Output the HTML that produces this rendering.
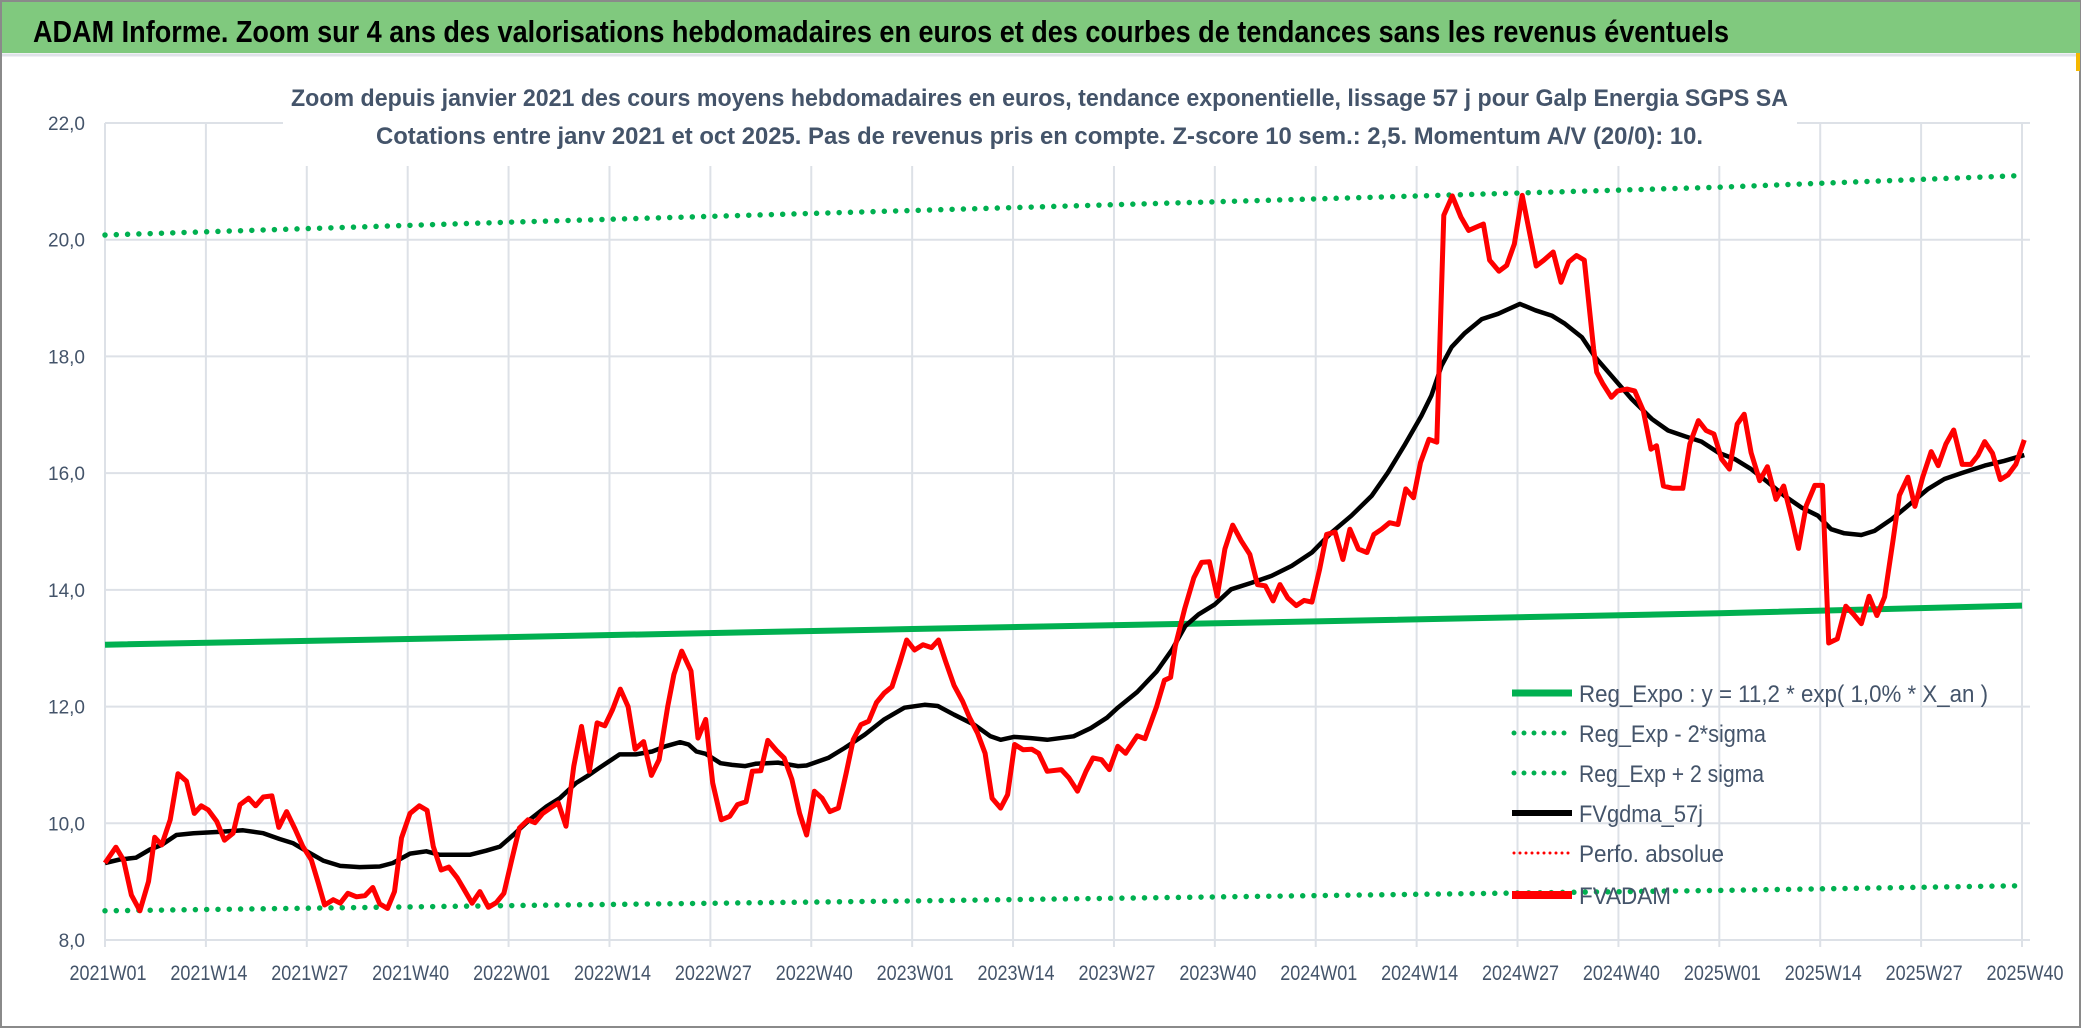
<!DOCTYPE html>
<html><head><meta charset="utf-8"><style>
html,body{margin:0;padding:0;background:#fff;}
svg{display:block;}
text{font-family:"Liberation Sans",sans-serif;}
</style></head><body>
<svg id="chart" width="2086" height="1031" viewBox="0 0 2086 1031" xmlns="http://www.w3.org/2000/svg">
<rect x="0" y="0" width="2086" height="1031" fill="#fff"/>
<rect x="1" y="1" width="2079" height="1026" fill="none" stroke="#8a8a8a" stroke-width="2"/>
<rect x="2" y="2" width="2078" height="51" fill="#80c97e"/>
<line x1="2" y1="55" x2="2080" y2="55" stroke="#dfe2e8" stroke-width="3"/>
<text x="33" y="42" font-size="31" font-weight="bold" fill="#000" textLength="1696" lengthAdjust="spacingAndGlyphs">ADAM Informe. Zoom sur 4 ans des valorisations hebdomadaires en euros et des courbes de tendances sans les revenus éventuels</text>
<g id="grid"></g>
<rect x="283" y="60" width="1514" height="106" fill="#fff"/>
<text x="291" y="106" font-size="24" font-weight="bold" fill="#44546a" textLength="1497" lengthAdjust="spacingAndGlyphs">Zoom depuis janvier 2021 des cours moyens hebdomadaires en euros, tendance exponentielle, lissage 57 j pour Galp Energia SGPS SA</text>
<text x="376" y="144" font-size="24" font-weight="bold" fill="#44546a" textLength="1327" lengthAdjust="spacingAndGlyphs">Cotations entre janv 2021 et oct 2025. Pas de revenus pris en compte. Z-score 10 sem.: 2,5. Momentum A/V (20/0): 10.</text>
<g id="axes"></g>
<g id="series"></g>
<g id="legend">
  <rect x="1505" y="676" width="500" height="240" fill="none"/>
  <g>
    <line x1="1512" y1="693" x2="1572" y2="693" stroke="#00b050" stroke-width="7"/>
    <text x="1579" y="702" font-size="24" fill="#44546a" textLength="409" lengthAdjust="spacingAndGlyphs">Reg_Expo : y = 11,2 * exp( 1,0% *  X_an )</text>
  </g>
  <g>
    <line x1="1514" y1="733" x2="1572" y2="733" stroke="#00b050" stroke-width="5" stroke-linecap="round" stroke-dasharray="0 10"/>
    <text x="1579" y="742" font-size="24" fill="#44546a" textLength="187" lengthAdjust="spacingAndGlyphs">Reg_Exp - 2*sigma</text>
  </g>
  <g>
    <line x1="1514" y1="773" x2="1572" y2="773" stroke="#00b050" stroke-width="5" stroke-linecap="round" stroke-dasharray="0 10"/>
    <text x="1579" y="782" font-size="24" fill="#44546a" textLength="185" lengthAdjust="spacingAndGlyphs">Reg_Exp + 2 sigma</text>
  </g>
  <g>
    <line x1="1512" y1="813" x2="1572" y2="813" stroke="#000" stroke-width="6"/>
    <text x="1579" y="822" font-size="24" fill="#44546a" textLength="124" lengthAdjust="spacingAndGlyphs">FVgdma_57j</text>
  </g>
  <g>
    <line x1="1514" y1="853" x2="1572" y2="853" stroke="#ff0000" stroke-width="3" stroke-linecap="round" stroke-dasharray="0 6"/>
    <text x="1579" y="862" font-size="24" fill="#44546a" textLength="145" lengthAdjust="spacingAndGlyphs">Perfo. absolue</text>
  </g>
  <g>
    <line x1="1512" y1="895" x2="1572" y2="895" stroke="#ff0000" stroke-width="8"/>
    <text x="1579" y="904" font-size="24" fill="#44546a" textLength="92" lengthAdjust="spacingAndGlyphs">FVADAM</text>
  </g>
</g>
<rect x="2076" y="53" width="4" height="18" fill="#f5b800"/>
</svg>
<script>
// ---- data ----
const xTickLabels = ["2021W01","2021W14","2021W27","2021W40","2022W01","2022W14","2022W27","2022W40","2023W01","2023W14","2023W27","2023W40","2024W01","2024W14","2024W27","2024W40","2025W01","2025W14","2025W27","2025W40"];
const yTickValues = [8,10,12,14,16,18,20,22];
const yTickLabels = ["8,0","10,0","12,0","14,0","16,0","18,0","20,0","22,0"];
const trendWeeks = [0,52,104,156,208,247];
const regExpo = [13.06,13.19,13.33,13.46,13.60,13.73];
const regMinus2Sigma = [8.50,8.59,8.67,8.76,8.85,8.93];
const regPlus2Sigma = [20.08,20.30,20.50,20.70,20.90,21.10];
const redWeeks = [0,1.4,2.4,3.4,4.5,5.6,6.4,7.3,8.4,9.4,10.5,11.5,12.4,13.3,14.4,15.4,16.5,17.4,18.5,19.4,20.4,21.5,22.4,23.4,24.5,25.5,26.6,27.5,28.3,29.4,30.3,31.3,32.4,33.5,34.5,35.4,36.4,37.3,38.2,39.3,40.5,41.5,42.3,43.3,44.3,45.4,46.3,47.3,48.3,49.4,50.4,51.4,52.4,53.4,54.5,55.4,56.4,57.5,58.4,59.4,60.4,61.4,62.4,63.4,64.4,65.4,66.4,67.4,68.3,69.4,70.4,71.4,72.5,73.3,74.3,75.5,76.4,77.4,78.3,79.4,80.5,81.5,82.6,83.4,84.5,85.4,86.5,87.5,88.5,89.5,90.4,91.4,92.4,93.4,94.5,95.5,96.4,97.4,98.4,99.4,100.4,101.4,102.4,103.3,104.3,105.4,106.5,107.4,108.3,109.4,110.5,111.4,112.4,113.4,114.3,115.4,116.3,117.2,118.3,119.4,120.3,121.4,123.2,124.2,125.3,126.4,127.3,128.4,129.4,130.5,131.5,133,134,135.5,136.5,137.3,137.9,139.1,140.3,141.3,142.3,143.3,144.3,145.3,146.4,147.5,148.5,149.5,150.5,151.4,152.4,153.5,154.5,155.5,156.5,157.4,158.5,159.5,160.4,161.5,162.6,163.5,164.5,165.5,166.6,167.6,168.6,169.5,170.6,171.6,172.5,173.6,174.7,175.7,177.6,178.4,179.6,180.6,181.6,182.6,183.4,184.4,185.4,186.6,187.6,188.6,189.6,190.6,191.8,192.2,193.0,194.1,194.9,196.1,197.1,198.2,199.2,199.9,200.8,202.0,203.3,204.2,205.3,206.3,207.3,208.3,209.3,210.3,211.2,212.1,213.2,214.2,215.3,216.3,217.3,218.2,219.2,220.3,221.3,222.1,223.2,224.3,225.3,226.3,227.3,228.3,229.3,230.4,231.2,232.3,233.2,234.2,235.3,236.2,237.2,238.2,239.3,240.4,241.3,242.2,243.2,244.2,245.2,246.2,247.3];
const redVals = [9.32,9.59,9.37,8.77,8.50,9.0,9.76,9.63,10.06,10.85,10.72,10.17,10.30,10.23,10.03,9.71,9.83,10.32,10.43,10.30,10.45,10.47,9.93,10.20,9.90,9.60,9.37,8.97,8.60,8.69,8.63,8.80,8.74,8.76,8.90,8.62,8.54,8.83,9.75,10.17,10.30,10.22,9.60,9.20,9.25,9.06,8.86,8.63,8.83,8.56,8.64,8.80,9.37,9.92,10.06,10.01,10.17,10.27,10.35,9.95,10.98,11.66,10.89,11.72,11.67,11.95,12.30,12.0,11.27,11.40,10.82,11.09,12.0,12.55,12.95,12.61,11.46,11.78,10.69,10.06,10.12,10.32,10.37,10.89,10.90,11.42,11.25,11.12,10.75,10.17,9.80,10.55,10.43,10.20,10.26,10.86,11.43,11.69,11.75,12.07,12.23,12.34,12.75,13.14,12.97,13.06,13.01,13.14,12.78,12.36,12.09,11.81,11.55,11.20,10.43,10.26,10.49,11.35,11.26,11.27,11.2,10.89,10.92,10.78,10.55,10.89,11.12,11.09,10.92,11.32,11.2,11.5,11.45,12.0,12.45,12.5,13.04,13.67,14.21,14.47,14.48,13.89,14.70,15.11,14.84,14.61,14.09,14.07,13.81,14.09,13.86,13.73,13.82,13.79,14.35,14.95,14.99,14.52,15.04,14.70,14.64,14.95,15.04,15.15,15.12,15.73,15.58,16.18,16.58,16.53,20.42,20.75,20.39,20.16,20.27,19.65,19.46,19.56,19.93,20.76,20.22,19.55,19.65,19.79,19.27,19.62,19.73,19.65,18.13,17.73,17.53,17.30,17.41,17.44,17.41,17.07,16.41,16.47,15.78,15.74,15.74,16.50,16.90,16.73,16.67,16.24,16.07,16.84,17.01,16.35,15.87,16.11,15.55,15.78,15.24,14.71,15.44,15.79,15.79,13.09,13.16,13.72,13.58,13.42,13.89,13.56,13.88,14.87,15.62,15.93,15.43,15.93,16.37,16.13,16.50,16.74,16.15,16.15,16.30,16.54,16.34,15.89,15.97,16.15,16.57];
const blackWeeks = [0,1.9,4,5.8,7.3,9.2,11.4,14.4,17.8,20.4,22.5,24.2,26,28.1,30.3,32.8,35.4,37.1,39.3,41.4,43.1,47,49.1,50.9,52.6,54.7,56.9,58.6,60.7,62.4,63.7,66.3,68.4,70.5,72.2,74.1,75.2,76.2,77.4,79.3,80.8,82.5,83.8,86.7,89.3,90.4,93.2,95.3,97.9,100.4,103,105.6,107.3,109.4,112,114.1,115.4,117.1,119.3,121.4,124.8,127,129.1,130.5,133,135.5,137.5,139.2,140.9,143,145.1,147.7,150.3,152.9,155.5,158,160.6,163.2,165.3,167.4,169.6,170.9,172.2,173.5,175.2,177.4,179.5,182.3,184.3,186.4,188.1,190.3,192,194.1,196.7,199.3,201.4,203.6,205.7,207.9,210,212.1,214.3,216.4,218.6,220.7,222.4,224.1,226.3,228,230.2,232.3,234.9,237,239.2,242.2,244.7,247.3];
const blackVals = [9.32,9.38,9.41,9.55,9.63,9.80,9.83,9.85,9.88,9.83,9.73,9.66,9.52,9.36,9.27,9.25,9.26,9.32,9.48,9.52,9.46,9.46,9.53,9.60,9.80,10.06,10.29,10.43,10.69,10.83,10.95,11.18,11.18,11.23,11.32,11.39,11.35,11.23,11.19,11.03,11.0,10.98,11.02,11.04,10.98,10.99,11.12,11.29,11.52,11.78,11.98,12.03,12.01,11.86,11.69,11.49,11.43,11.48,11.46,11.43,11.49,11.63,11.81,11.98,12.25,12.60,12.98,13.38,13.58,13.75,14.01,14.12,14.24,14.41,14.64,14.98,15.27,15.61,16.01,16.47,16.98,17.33,17.84,18.16,18.40,18.64,18.73,18.90,18.79,18.70,18.56,18.33,17.99,17.67,17.27,16.93,16.73,16.63,16.54,16.35,16.24,16.07,15.84,15.61,15.41,15.27,15.04,14.97,14.94,15.01,15.21,15.44,15.73,15.90,16.00,16.13,16.21,16.31];

// ---- axis functions ----
const X0 = 105, X1 = 2022, WEEKS = 247;
const Y0 = 940, YTOP = 123, VMIN = 8, VMAX = 22;
function xScale(w){ return X0 + w * (X1 - X0) / WEEKS; }
function yScale(v){ return Y0 - (v - VMIN) * (Y0 - YTOP) / (VMAX - VMIN); }
const NS = "http://www.w3.org/2000/svg";
function mk(tag, parent){ const e = document.createElementNS(NS, tag); parent.appendChild(e); return e; }
const grid = document.getElementById('grid');
const axes = document.getElementById('axes');
const series = document.getElementById('series');

yTickValues.forEach((v, i) => {
  const l = mk('line', grid);
  
  
  l.setAttribute('x1', X0); l.setAttribute('x2', 2030);
  l.setAttribute('y1', yScale(v)); l.setAttribute('y2', yScale(v));
  l.setAttribute('stroke', '#dde1e7'); l.setAttribute('stroke-width', '2');
  const t = mk('text', axes);
  
  
  t.setAttribute('x', 85); t.setAttribute('y', yScale(v) + 7);
  t.setAttribute('text-anchor', 'end'); t.setAttribute('font-size', '19');
  t.setAttribute('fill', '#44546a');
  t.textContent = yTickLabels[i];
});
xTickLabels.forEach((lab, i) => {
  const x = xScale(i * 13);
  const l = mk('line', grid);
  
  
  l.setAttribute('x1', x); l.setAttribute('x2', x);
  l.setAttribute('y1', YTOP); l.setAttribute('y2', 947);
  l.setAttribute('stroke', '#dde1e7'); l.setAttribute('stroke-width', '2');
  const t = mk('text', axes);
  
  
  t.setAttribute('x', x + 3); t.setAttribute('y', 980);
  t.setAttribute('text-anchor', 'middle'); t.setAttribute('font-size', '21');
  t.setAttribute('fill', '#44546a');
  t.setAttribute('textLength', '77'); t.setAttribute('lengthAdjust', 'spacingAndGlyphs');
  t.textContent = lab;
});

function pts(ws, vs){ return ws.map((w, i) => xScale(w).toFixed(1) + ',' + yScale(vs[i]).toFixed(1)).join(' '); }

const regLine = mk('polyline', series);


regLine.setAttribute('points', pts(trendWeeks, regExpo));
regLine.setAttribute('fill', 'none'); regLine.setAttribute('stroke', '#00b050'); regLine.setAttribute('stroke-width', '6');

const lowLine = mk('polyline', series);


lowLine.setAttribute('points', pts(trendWeeks, regMinus2Sigma));
lowLine.setAttribute('fill', 'none'); lowLine.setAttribute('stroke', '#00b050'); lowLine.setAttribute('stroke-width', '5.5');
lowLine.setAttribute('stroke-linecap', 'round'); lowLine.setAttribute('stroke-dasharray', '0 11.3');

const highLine = mk('polyline', series);


highLine.setAttribute('points', pts(trendWeeks, regPlus2Sigma));
highLine.setAttribute('fill', 'none'); highLine.setAttribute('stroke', '#00b050'); highLine.setAttribute('stroke-width', '5.5');
highLine.setAttribute('stroke-linecap', 'round'); highLine.setAttribute('stroke-dasharray', '0 11.3');

const blackLine = mk('polyline', series);


blackLine.setAttribute('points', pts(blackWeeks, blackVals));
blackLine.setAttribute('fill', 'none'); blackLine.setAttribute('stroke', '#000'); blackLine.setAttribute('stroke-width', '4.5');
blackLine.setAttribute('stroke-linejoin', 'round');

const redLine = mk('polyline', series);


redLine.setAttribute('points', pts(redWeeks, redVals));
redLine.setAttribute('fill', 'none'); redLine.setAttribute('stroke', '#ff0000'); redLine.setAttribute('stroke-width', '5');
redLine.setAttribute('stroke-linejoin', 'round');
</script>
</body></html>
